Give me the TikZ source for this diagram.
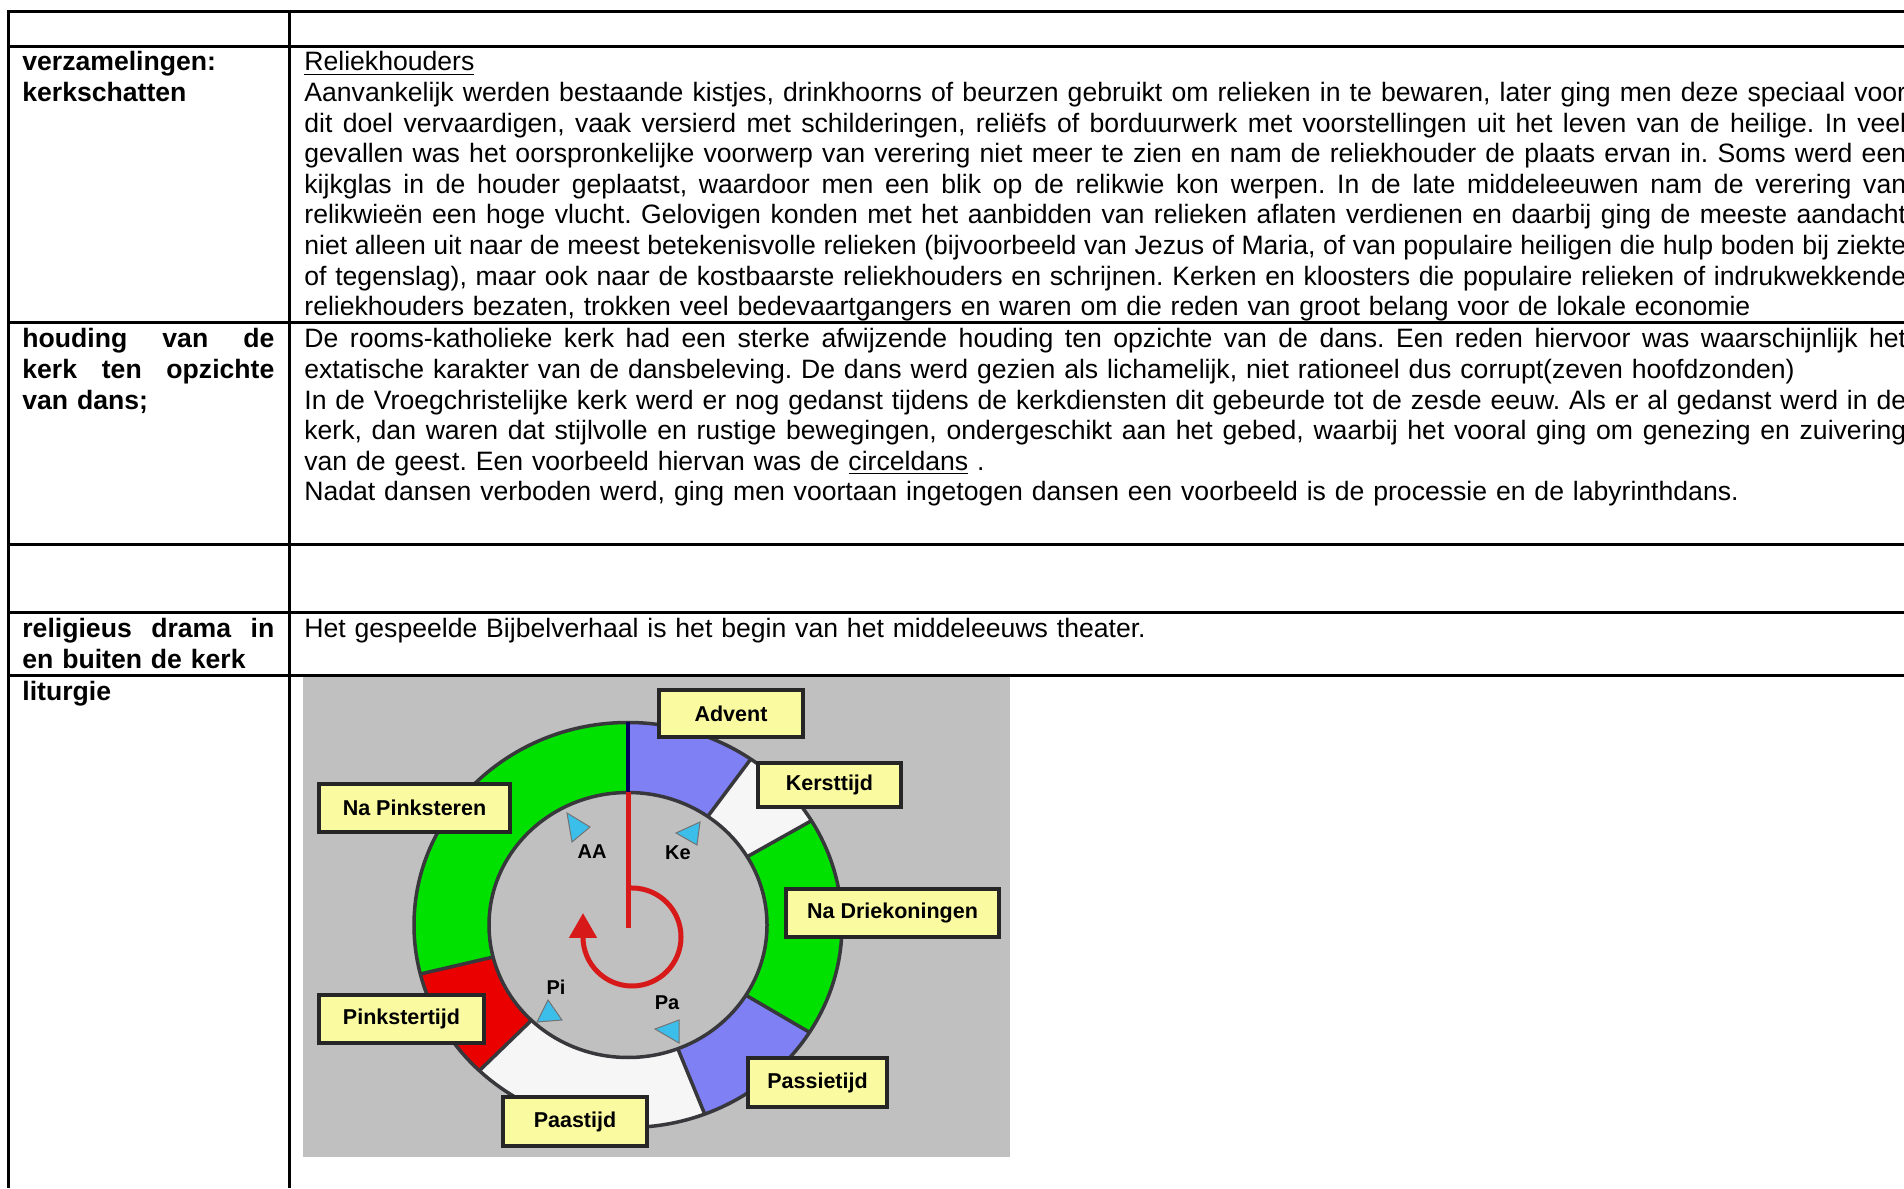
\documentclass[tikz,border=0pt]{standalone}
\usepackage{fontspec}
\setmainfont{Liberation Sans}
\usetikzlibrary{arrows.meta}
\definecolor{figgrijs}{RGB}{192,192,192}
\definecolor{ringgroen}{RGB}{0,225,0}
\definecolor{ringblauw}{RGB}{128,128,245}
\definecolor{ringwit}{RGB}{246,246,246}
\definecolor{ringrood}{RGB}{235,0,0}
\definecolor{ringrand}{RGB}{55,55,60}
\definecolor{adventlijn}{RGB}{0,0,90}
\definecolor{labelgeel}{RGB}{250,250,160}
\definecolor{pijlrood}{RGB}{215,25,25}
\definecolor{merkcyaan}{RGB}{60,190,235}
\newcommand{\uitvul}[1]{\makebox[\linewidth][s]{\spaceskip=0pt\relax\xspaceskip=0pt\relax #1}}
\frenchspacing
\tikzset{
    rand/.style={line width=1.5pt},
    kop/.style={anchor=base west, inner sep=0pt, text width=126pt, align=left,
        font=\frenchspacing\bfseries\fontsize{13.3pt}{15.3pt}\selectfont},
    tekst/.style={anchor=base west, inner sep=0pt, text width=801pt, align=left,
        font=\frenchspacing\fontsize{13.3pt}{15.3pt}\selectfont},
    kalbox/.style={draw=black!85, fill=labelgeel, line width=1.8pt, inner sep=0pt,
        font=\bfseries\fontsize{10.75pt}{12pt}\selectfont},
    merk/.style={inner sep=0pt, font=\bfseries\fontsize{10pt}{12pt}\selectfont},
    driehoek/.style={fill=merkcyaan, draw=black!55, line width=0.5pt},
    ringlijn/.style={draw=ringrand, line width=1.75pt},
    rodepijl/.style={draw=pijlrood, line width=2.5pt, -{Triangle[length=12.5pt,width=13.5pt]}}
}
\begin{document}
\begin{tikzpicture}[x=0.5pt,y=0.5pt]
\useasboundingbox (0,0) rectangle (1904,1188);
\clip (0,0) rectangle (1904,1188);
\fill[white] (0,0) rectangle (1904,1188);

% kolom links
\node[kop] (kop2) at (22,1117) {verzamelingen:\\kerkschatten};
\node[kop] (kop3) at (22,840) {\uitvul{houding van de}\\\uitvul{kerk ten opzichte}\\van dans;};
\node[kop] (kop5) at (22,550) {\uitvul{religieus drama in}\\en buiten de kerk};
\node[kop] (kop6) at (22,487) {liturgie};

% kolom rechts
\node[tekst] (tekst2) at (304,1117) {\underline{Reliekhouders}\\
\uitvul{Aanvankelijk werden bestaande kistjes, drinkhoorns of beurzen gebruikt om relieken in te bewaren, later ging men deze speciaal voor}\\
\uitvul{dit doel vervaardigen, vaak versierd met schilderingen, reliëfs of borduurwerk met voorstellingen uit het leven van de heilige. In veel}\\
\uitvul{gevallen was het oorspronkelijke voorwerp van verering niet meer te zien en nam de reliekhouder de plaats ervan in. Soms werd een}\\
\uitvul{kijkglas in de houder geplaatst, waardoor men een blik op de relikwie kon werpen. In de late middeleeuwen nam de verering van}\\
\uitvul{relikwieën een hoge vlucht. Gelovigen konden met het aanbidden van relieken aflaten verdienen en daarbij ging de meeste aandacht}\\
\uitvul{niet alleen uit naar de meest betekenisvolle relieken (bijvoorbeeld van Jezus of Maria, of van populaire heiligen die hulp boden bij ziekte}\\
\uitvul{of tegenslag), maar ook naar de kostbaarste reliekhouders en schrijnen. Kerken en kloosters die populaire relieken of indrukwekkende}\\
reliekhouders bezaten, trokken veel bedevaartgangers en waren om die reden van groot belang voor de lokale economie};
\node[tekst] (tekst3) at (304,840) {\uitvul{De rooms-katholieke kerk had een sterke afwijzende houding ten opzichte van de dans. Een reden hiervoor was waarschijnlijk het}\\
extatische karakter van de dansbeleving. De dans werd gezien als lichamelijk, niet rationeel dus corrupt(zeven hoofdzonden)\\
\uitvul{In de Vroegchristelijke kerk werd er nog gedanst tijdens de kerkdiensten dit gebeurde tot de zesde eeuw. Als er al gedanst werd in de}\\
\uitvul{kerk, dan waren dat stijlvolle en rustige bewegingen, ondergeschikt aan het gebed, waarbij het vooral ging om genezing en zuivering}\\
van de geest. Een voorbeeld hiervan was de \underline{circeldans} .\\
Nadat dansen verboden werd, ging men voortaan ingetogen dansen een voorbeeld is de processie en de labyrinthdans.};
\node[tekst] (tekst5) at (304,550) {Het gespeelde Bijbelverhaal is het begin van het middeleeuws theater.};

% figuur liturgisch jaar
\fill[figgrijs] (303,31) rectangle (1010,511);
\begin{scope}[shift={(628,263)}]
\fill[ringgroen] (90:214 and 202.5) arc[start angle=90, end angle=194, x radius=214, y radius=202.5]
    -- (194:139 and 132.5) arc[start angle=194, end angle=90, x radius=139, y radius=132.5] -- cycle;
\fill[ringrood] (194:214 and 202.5) arc[start angle=194, end angle=226, x radius=214, y radius=202.5]
    -- (226:139 and 132.5) arc[start angle=226, end angle=194, x radius=139, y radius=132.5] -- cycle;
\fill[ringwit] (226:214 and 202.5) arc[start angle=226, end angle=291, x radius=214, y radius=202.5]
    -- (291:139 and 132.5) arc[start angle=291, end angle=226, x radius=139, y radius=132.5] -- cycle;
\fill[ringblauw] (291:214 and 202.5) arc[start angle=291, end angle=328, x radius=214, y radius=202.5]
    -- (328:139 and 132.5) arc[start angle=328, end angle=291, x radius=139, y radius=132.5] -- cycle;
\fill[ringgroen] (-32:214 and 202.5) arc[start angle=-32, end angle=31, x radius=214, y radius=202.5]
    -- (31:139 and 132.5) arc[start angle=31, end angle=-32, x radius=139, y radius=132.5] -- cycle;
\fill[ringwit] (31:214 and 202.5) arc[start angle=31, end angle=55, x radius=214, y radius=202.5]
    -- (55:139 and 132.5) arc[start angle=55, end angle=31, x radius=139, y radius=132.5] -- cycle;
\fill[ringblauw] (55:214 and 202.5) arc[start angle=55, end angle=90, x radius=214, y radius=202.5]
    -- (90:139 and 132.5) arc[start angle=90, end angle=55, x radius=139, y radius=132.5] -- cycle;
\draw[ringlijn] (194:139 and 132.5) -- (194:214 and 202.5);
\draw[ringlijn] (226:139 and 132.5) -- (226:214 and 202.5);
\draw[ringlijn] (291:139 and 132.5) -- (291:214 and 202.5);
\draw[ringlijn] (328:139 and 132.5) -- (328:214 and 202.5);
\draw[ringlijn] (31:139 and 132.5) -- (31:214 and 202.5);
\draw[ringlijn] (55:139 and 132.5) -- (55:214 and 202.5);
\draw[ringlijn] (0,0) ellipse[x radius=214, y radius=202.5];
\draw[ringlijn] (0,0) ellipse[x radius=139, y radius=132.5];
\draw[adventlijn, line width=2pt] (0,132.5) -- (0,202.5);
\draw[pijlrood, line width=2.5pt] (0,132.5) -- (0,-3);
\draw[rodepijl] (0,37) -- (4,37) arc[start angle=90, end angle=-180, radius=49] -- ++(0,24);
\end{scope}

% merktekens
\draw[driehoek] (567,375) -- (590,361) -- (572,346) -- cycle;
\draw[driehoek] (700,366) -- (676,355) -- (697,343) -- cycle;
\draw[driehoek] (548,188) -- (537,166) -- (562,168) -- cycle;
\draw[driehoek] (679,168) -- (655,159) -- (679,145) -- cycle;
\node[merk] (aa) at (592,336) {AA};
\node[merk] (ke) at (678,335) {Ke};
\node[merk] (pi) at (556,201) {Pi};
\node[merk] (pa) at (667,185) {Pa};

% periodes
\node[kalbox, minimum width=72pt, minimum height=23.5pt] (advent) at (731,474.5) {Advent};
\node[kalbox, minimum width=71.5pt, minimum height=22pt] (kersttijd) at (829.5,403) {Kersttijd};
\node[kalbox, minimum width=95.5pt, minimum height=24pt] (napinksteren) at (414.5,380) {Na Pinksteren};
\node[kalbox, minimum width=106.5pt, minimum height=24pt] (nadriekoningen) at (892.5,275) {Na Driekoningen};
\node[kalbox, minimum width=82.5pt, minimum height=24pt] (pinkstertijd) at (401.5,169) {Pinkstertijd};
\node[kalbox, minimum width=69.5pt, minimum height=24.5pt] (passietijd) at (817.5,105.5) {Passietijd};
\node[kalbox, minimum width=72pt, minimum height=24.5pt] (paastijd) at (575,66.5) {Paastijd};

% tabel
\draw[rand] (7,1176.5) -- (1904,1176.5);
\draw[rand] (7,1141) -- (1904,1141);
\draw[rand] (7,865) -- (1904,865);
\draw[rand] (7,643) -- (1904,643);
\draw[rand] (7,575) -- (1904,575);
\draw[rand] (7,512) -- (1904,512);
\draw[rand] (8.5,1178) -- (8.5,0);
\draw[rand] (289,1178) -- (289,0);
\end{tikzpicture}
\end{document}
